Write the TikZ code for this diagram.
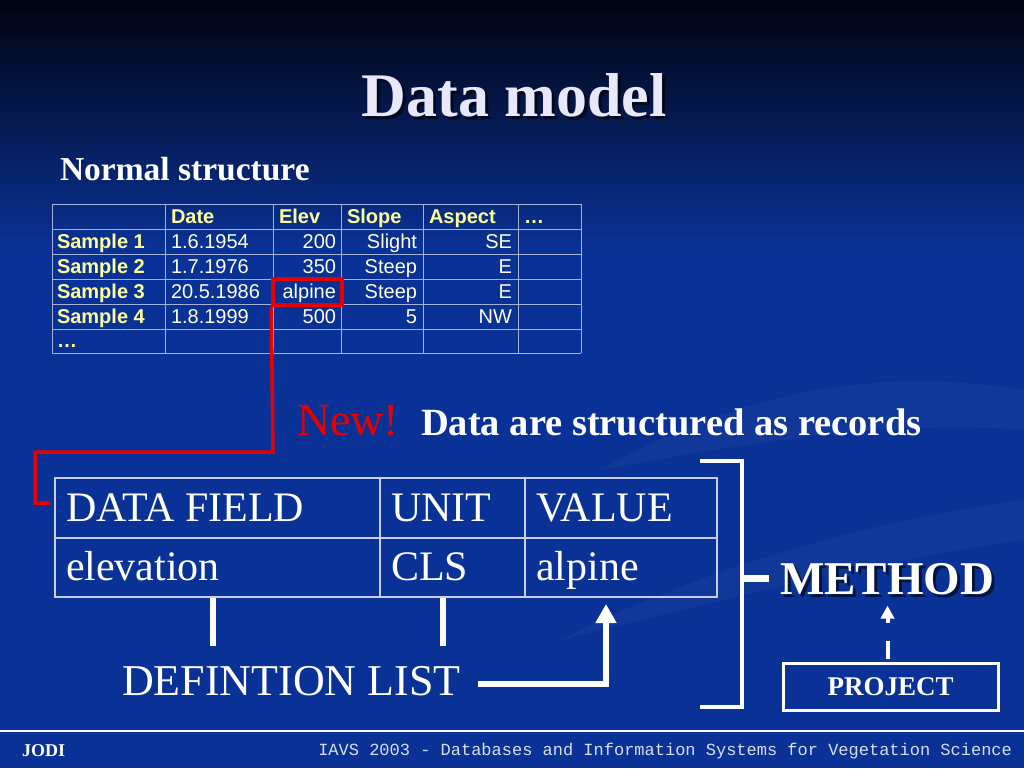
\documentclass[tikz,border=0pt]{standalone}
\usepackage{fontspec}
\setmainfont{Liberation Serif}
\newfontfamily\arialf{Liberation Sans}
\newfontfamily\monof{Liberation Mono}
\usetikzlibrary{arrows.meta}
\definecolor{bgblue}{RGB}{10,50,150}
\definecolor{bgmid}{RGB}{5,24,78}
\definecolor{bgtop}{RGB}{0,3,16}
\definecolor{gridc}{RGB}{165,178,215}
\definecolor{hdr}{RGB}{255,255,153}
\definecolor{valc}{RGB}{255,255,232}
\definecolor{titlec}{RGB}{232,232,250}
\definecolor{redc}{RGB}{235,0,0}
\definecolor{rline}{RGB}{200,206,228}
\definecolor{footc}{RGB}{215,222,240}
\tikzset{
  txt/.style={inner sep=0pt, outer sep=0pt},
  hd/.style={txt, text=hdr, font=\arialf\bfseries\fontsize{20}{24}\selectfont},
  vl/.style={txt, text=valc, font=\arialf\fontsize{20}{24}\selectfont},
  rcell/.style={draw=rline, line width=2pt, inner sep=0pt},
  rtext/.style={txt, text=white, font=\fontsize{42}{48}\selectfont},
  wbar/.style={draw=white, line width=6pt},
  warrow/.style={draw=white, line width=6pt, line join=miter, -{Triangle[width=20pt,length=19pt]}},
  redline/.style={draw=redc, line width=3.5pt, line join=miter},
  shadowtxt/.style={txt, text=black, opacity=0.6}
}
\begin{document}
\begin{tikzpicture}[x=1pt,y=-1pt]
\useasboundingbox (0,0) rectangle (1024,768);
% background
\shade[top color=bgtop, middle color=bgmid, bottom color=bgblue] (0,0) rectangle (1024,250);
\fill[bgblue] (0,249) rectangle (1024,768);
% faint swooshes
\fill[white, opacity=0.03] (600,470) .. controls (760,380) and (900,370) .. (1024,390) -- (1024,430) .. controls (900,420) and (760,440) .. (600,470) -- cycle;
\fill[white, opacity=0.03] (560,640) .. controls (720,560) and (880,520) .. (1024,500) -- (1024,540) .. controls (880,560) and (720,600) .. (560,640) -- cycle;
% title
\node[shadowtxt, anchor=base, font=\bfseries\fontsize{62}{70}\selectfont] (titlesh) at (517,119) {Data model};
\node[txt, anchor=base, text=titlec, font=\bfseries\fontsize{62}{70}\selectfont] (title) at (514,116) {Data model};
\node[txt, anchor=base west, text=white, font=\bfseries\fontsize{33.5}{40}\selectfont] (normal) at (60,180) {Normal structure};
% table grid
\foreach \yy in {204,229,254,279,304,329,353} \draw[gridc, line width=1pt] (52,\yy) -- (581,\yy);
\foreach \xx in {52,165,273,341,423,518,581} \draw[gridc, line width=1pt] (\xx,204) -- (\xx,353);
% headers
\node[hd, anchor=base west] (hdate) at (171,223) {Date};
\node[hd, anchor=base west] (helev) at (279,223) {Elev};
\node[hd, anchor=base west] (hslope) at (347,223) {Slope};
\node[hd, anchor=base west] (haspect) at (429,223) {Aspect};
\node[hd, anchor=base west] (hdots) at (524,223) {…};
\node[hd, anchor=base west] (s1) at (57,248) {Sample 1};
\node[hd, anchor=base west] (s2) at (57,273) {Sample 2};
\node[hd, anchor=base west] (s3) at (57,298) {Sample 3};
\node[hd, anchor=base west] (s4) at (57,323) {Sample 4};
\node[hd, anchor=base west] (s5) at (57,347) {…};
% values
\node[vl, anchor=base west] (d1) at (171,248) {1.6.1954};
\node[vl, anchor=base west] (d2) at (171,273) {1.7.1976};
\node[vl, anchor=base west] (d3) at (171,298) {20.5.1986};
\node[vl, anchor=base west] (d4) at (171,323) {1.8.1999};
\node[vl, anchor=base east] (e1) at (336,248) {200};
\node[vl, anchor=base east] (e2) at (336,273) {350};
\node[vl, anchor=base east] (e3) at (336,298) {alpine};
\node[vl, anchor=base east] (e4) at (336,323) {500};
\node[vl, anchor=base east] (l1) at (417,248) {Slight};
\node[vl, anchor=base east] (l2) at (417,273) {Steep};
\node[vl, anchor=base east] (l3) at (417,298) {Steep};
\node[vl, anchor=base east] (l4) at (417,323) {5};
\node[vl, anchor=base east] (a1) at (512,248) {SE};
\node[vl, anchor=base east] (a2) at (512,273) {E};
\node[vl, anchor=base east] (a3) at (512,298) {E};
\node[vl, anchor=base east] (a4) at (512,323) {NW};
% red box
\node[draw=redc, line width=3.5pt, minimum width=69pt, minimum height=26pt, inner sep=0pt] (redbox) at (307.5,292) {};
% New! line
\node[txt, anchor=base west, text=redc, font=\fontsize{46}{52}\selectfont] (newt) at (297,435) {New!};
\node[txt, anchor=base west, text=white, font=\bfseries\fontsize{38.5}{46}\selectfont] (struct) at (421,435) {Data are structured as records};
% record table
\node[rcell, minimum width=325pt, minimum height=60pt] (df) at (217.5,508) {};
\node[rcell, minimum width=145pt, minimum height=60pt] (un) at (452.5,508) {};
\node[rcell, minimum width=192pt, minimum height=60pt] (va) at (621,508) {};
\node[rcell, minimum width=325pt, minimum height=59pt] (el) at (217.5,567.5) {};
\node[rcell, minimum width=145pt, minimum height=59pt] (cls) at (452.5,567.5) {};
\node[rcell, minimum width=192pt, minimum height=59pt] (alp) at (621,567.5) {};
\node[rtext, anchor=base west] (tdf) at (66,521) {DATA FIELD};
\node[rtext, anchor=base west] (tun) at (391,521) {UNIT};
\node[rtext, anchor=base west] (tva) at (536,521) {VALUE};
\node[rtext, anchor=base west] (tel) at (66,580) {elevation};
\node[rtext, anchor=base west] (tcls) at (391,580) {CLS};
\node[rtext, anchor=base west] (talp) at (536,580) {alpine};
% red connector
\coordinate (redend) at (50,503);
\draw[redline] (redbox.south west) -- (273,452) -- (35,452) -- (35,503) -- (redend);
% definition list
\node[txt, anchor=base west, text=white, font=\fontsize{44}{52}\selectfont] (dl) at (122,695) {DEFINTION LIST};
\draw[wbar] ([xshift=-4.5pt]el.south) -- ++(0,48);
\draw[wbar] ([xshift=-9.5pt]cls.south) -- ++(0,48);
\draw[warrow] ([xshift=17pt,yshift=-3pt]dl.east) -| ([xshift=-15pt,yshift=-6pt]alp.south);
% bracket and method
\draw[white, line width=4pt, line join=miter] (700,461) -- (742,461) -- (742,707) -- (700,707);
\node[shadowtxt, anchor=base west, font=\bfseries\fontsize{47}{54}\selectfont] (methsh) at (783,597) {METHOD};
\node[txt, anchor=base west, text=white, font=\bfseries\fontsize{47}{54}\selectfont] (method) at (780,594) {METHOD};
\draw[white, line width=7pt] (742,0 |- method.west) -- ([xshift=-11pt]method.west);
% project
\node[draw=white, line width=3pt, minimum width=215pt, minimum height=47pt, inner sep=0pt, text=white, font=\bfseries\fontsize{27}{32}\selectfont] (proj) at (890.5,686.5) {PROJECT};
\draw[white, line width=4pt, dash pattern=on 18pt off 18pt, -{Triangle[width=13pt,length=13pt]}] ([xshift=-3pt,yshift=3pt]proj.north) -- ([xshift=-3pt,yshift=56pt]proj.north);
% footer
\draw[white, line width=1.5pt] (0,731) -- (1024,731);
\node[txt, anchor=base west, text=white, font=\bfseries\fontsize{18}{22}\selectfont] (jodi) at (22,756) {JODI};
\node[txt, anchor=base east, text=footc, font=\monof\fontsize{17}{20}\selectfont] (foot) at (1012,755) {IAVS 2003 - Databases and Information Systems for Vegetation Science};
\end{tikzpicture}
\end{document}
